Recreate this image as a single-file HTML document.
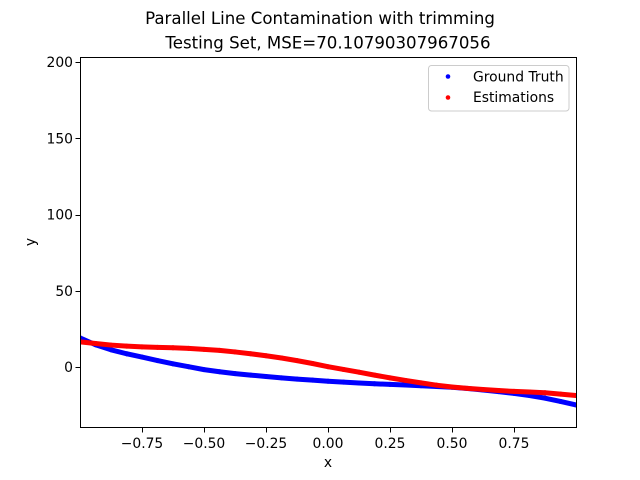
<!DOCTYPE html>
<html>
<head>
<meta charset="utf-8">
<style>
html,body{margin:0;padding:0;background:#fff;}
svg{display:block;}
text{font-family:"DejaVu Sans","Liberation Sans",sans-serif;fill:#000;}
</style>
</head>
<body>
<svg id="chart" width="640" height="480" viewBox="0 0 640 480" xmlns="http://www.w3.org/2000/svg">
  <defs><clipPath id="plot-clip"><rect x="80" y="57.6" width="496" height="369.6"/></clipPath></defs>
  <rect x="0" y="0" width="640" height="480" fill="#fff"/>
  <text x="320" y="24" font-size="16.62" text-anchor="middle">Parallel Line Contamination with trimming</text>
  <text x="328" y="48.5" font-size="16.62" text-anchor="middle">Testing Set, MSE=70.10790307967056</text>
  <g id="series" clip-path="url(#plot-clip)"></g>
  <g id="ticks"></g>
  <rect x="80.5" y="57.5" width="496" height="370" fill="none" stroke="#000" stroke-width="1" shape-rendering="crispEdges"/>
  <text x="328" y="467" font-size="13.89" text-anchor="middle">x</text>
  <text x="0" y="0" font-size="13.89" text-anchor="middle" transform="translate(35 242) rotate(-90)">y</text>
  <g>
    <rect x="428.5" y="65.5" width="140.5" height="45.5" rx="3" ry="3" fill="#fff" fill-opacity="0.8" stroke="#ccc" stroke-width="1"/>
    <circle cx="448" cy="76.5" r="2.3" fill="#0000ff"/>
    <text x="473" y="81.5" font-size="13.89">Ground Truth</text>
    <circle cx="448" cy="97.5" r="2.3" fill="#ff0000"/>
    <text x="473" y="102" font-size="13.89">Estimations</text>
  </g>
</svg>
<script>
const xValues = [-1,-0.9375,-0.875,-0.8125,-0.75,-0.6875,-0.625,-0.5625,-0.5,-0.4375,-0.375,-0.3125,-0.25,-0.1875,-0.125,-0.0625,0,0.0625,0.125,0.1875,0.25,0.3125,0.375,0.4375,0.5,0.5625,0.625,0.6875,0.75,0.8125,0.875,0.9375,1];
const groundTruth = [19.1,14.6,11.3,8.7,6.5,4.2,2.1,0.2,-1.7,-3.1,-4.3,-5.3,-6.2,-7.1,-7.9,-8.6,-9.3,-9.9,-10.5,-11,-11.4,-11.8,-12.3,-12.8,-13.3,-14.1,-15.1,-16.1,-17.3,-18.7,-20.4,-22.6,-24.9];
const estimations = [16.5,15.4,14.4,13.7,13.2,12.9,12.6,12.2,11.6,10.9,9.9,8.7,7.4,5.9,4.2,2.3,0.2,-1.6,-3.4,-5.3,-7.1,-8.8,-10.4,-11.9,-13.1,-14,-14.7,-15.4,-16,-16.4,-16.9,-17.8,-18.7];
const xTickValues = [-0.75,-0.5,-0.25,0,0.25,0.5,0.75];
const xTickLabels = ["\u22120.75","\u22120.50","\u22120.25","0.00","0.25","0.50","0.75"];
const yTickValues = [0,50,100,150,200];
const yTickLabels = ["0","50","100","150","200"];

const NS = "http://www.w3.org/2000/svg";
const xDomain = [-1, 1], yDomain = [-39.46, 202.9];
const plot = {left: 80, right: 576, top: 57.6, bottom: 427.2};
function xScale(v){ return plot.left + (v - xDomain[0]) / (xDomain[1] - xDomain[0]) * (plot.right - plot.left); }
function yScale(v){ return plot.bottom - (v - yDomain[0]) / (yDomain[1] - yDomain[0]) * (plot.bottom - plot.top); }

const seriesGroup = document.getElementById("series");
const tickGroup = document.getElementById("ticks");

function drawSeries(values, color, name){
  const g = document.createElementNS(NS, "g");
  
  
  const line = document.createElementNS(NS, "polyline");
  
  
  line.setAttribute("points", values.map((v, i) => xScale(xValues[i]) + "," + yScale(v)).join(" "));
  line.setAttribute("fill", "none");
  line.setAttribute("stroke", color);
  line.setAttribute("stroke-width", "5");
  line.setAttribute("stroke-linejoin", "round");
  g.appendChild(line);
  values.forEach((v, i) => {
    const c = document.createElementNS(NS, "circle");
    
    
    c.setAttribute("cx", xScale(xValues[i]));
    c.setAttribute("cy", yScale(v));
    c.setAttribute("r", "2.5");
    c.setAttribute("fill", color);
    g.appendChild(c);
  });
  seriesGroup.appendChild(g);
}
drawSeries(groundTruth, "#0000ff", "ground-truth");
drawSeries(estimations, "#ff0000", "estimations");

xTickValues.forEach((v, i) => {
  const px = Math.round(xScale(v)) + 0.5;
  const t = document.createElementNS(NS, "line");
  
  
  t.setAttribute("x1", px); t.setAttribute("x2", px);
  t.setAttribute("y1", 427.5); t.setAttribute("y2", 432.5);
  t.setAttribute("stroke", "#000");
  t.setAttribute("shape-rendering", "crispEdges");
  tickGroup.appendChild(t);
  const l = document.createElementNS(NS, "text");
  
  
  l.setAttribute("x", xScale(v));
  l.setAttribute("y", 448);
  l.setAttribute("font-size", "13.89");
  l.setAttribute("text-anchor", "middle");
  l.textContent = xTickLabels[i];
  tickGroup.appendChild(l);
});
yTickValues.forEach((v, i) => {
  const py = Math.round(yScale(v)) + 0.5;
  const t = document.createElementNS(NS, "line");
  
  
  t.setAttribute("x1", 75.5); t.setAttribute("x2", 80.5);
  t.setAttribute("y1", py); t.setAttribute("y2", py);
  t.setAttribute("stroke", "#000");
  t.setAttribute("shape-rendering", "crispEdges");
  tickGroup.appendChild(t);
  const l = document.createElementNS(NS, "text");
  
  
  l.setAttribute("x", 73);
  l.setAttribute("y", yScale(v) + 5);
  l.setAttribute("font-size", "13.89");
  l.setAttribute("text-anchor", "end");
  l.textContent = yTickLabels[i];
  tickGroup.appendChild(l);
});
</script>
</body>
</html>
